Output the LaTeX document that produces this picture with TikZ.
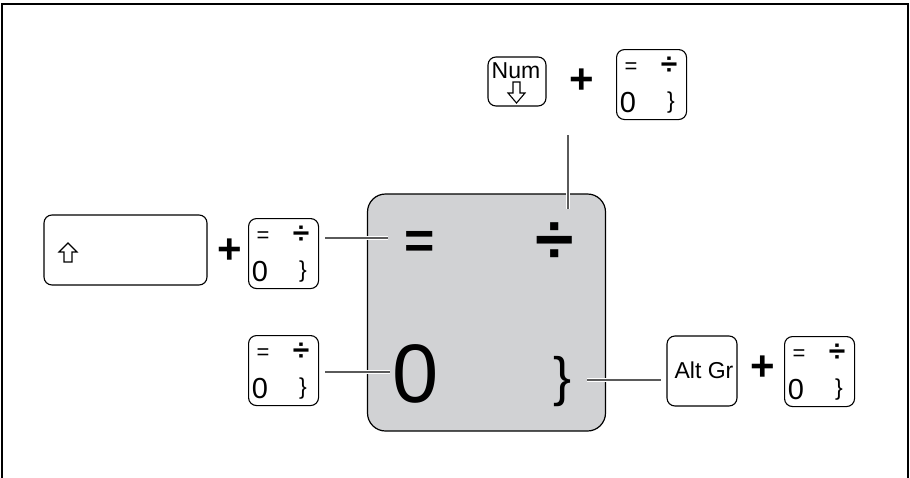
\documentclass[tikz,border=0pt]{standalone}
\usepackage{fontspec}
\setmainfont{Liberation Sans}
\definecolor{keygray}{HTML}{D1D2D4}
\definecolor{leadgray}{HTML}{5A5A5A}
\newcommand{\fs}[1]{\fontsize{#1}{#1}\selectfont}
\tikzset{
  keybox/.style={draw=black, line width=1.1pt, rounded corners=8pt, fill=white, inner sep=0pt},
  sym/.style={inner sep=0pt, outer sep=0pt, text=black},
  plussign/.style={sym, font=\fs{42}\bfseries},
  leader/.style={draw=leadgray, line width=1.4pt, preaction={draw=white, line width=4.5pt}},
  arrowout/.style={draw=black, line width=1.1pt, line join=miter, fill=white},
  smallkey/.pic={
    \node[keybox, minimum width=70pt, minimum height=70pt, anchor=north west] (-box) at (0,0) {};
    \node[sym, font=\fs{22}] (-eq) at (15,19) {=};
    \node[sym, font=\fs{30}\bfseries] (-div) at (53,17) {÷};
    \node[sym, font=\fs{29}] (-zero) at (12,54) {0};
    \node[sym, font=\fs{23}] (-brace) at (55,54) {\}};
  }
}
\begin{document}
\begin{tikzpicture}[x=1pt, y=-1pt]
\useasboundingbox (0,0) rectangle (910,477);
% frame
\draw[line width=1.5pt] (2,478) -- (2,4) -- (908,4) -- (908,478);

% big key
\node[draw=black, line width=1.2pt, fill=keygray, rounded corners=18pt, minimum width=238pt, minimum height=237pt, inner sep=0pt] (big) at (486.5,312.5) {};
\node[sym, font=\fs{52}\bfseries] (bigeq) at (420,245) {=};
\node[sym, font=\fs{70}\bfseries] (bigdiv) at (555,243) {÷};
\node[sym, font=\fs{83}] (bigzero) at (416,374) {0};
\node[sym, font=\fs{54}] (bigbrace) at (563,382) {\}};

% top: Num + key
\node[keybox, minimum width=58pt, minimum height=49pt] (num) at (517,81.5) {};
\node[sym, font=\fs{23}] (numtxt) at (516,70.5) {Num};
\draw[arrowout] (513,82) -- (520,82) -- (520,93) -- (525,93) -- (516.5,103) -- (508,93) -- (513,93) -- cycle;
\node[plussign] (plus1) at (582,81) {+};
\pic (ktop) at (616,49) {smallkey};

% left: shift + key
\node[keybox, minimum width=163pt, minimum height=70pt] (shift) at (125.5,250) {};
\draw[arrowout] (68,243) -- (77,252) -- (72,252) -- (72,262) -- (64,262) -- (64,252) -- (59,252) -- cycle;
\node[plussign] (plus2) at (230,251) {+};
\pic (kleft) at (248,218) {smallkey};

% left lower key
\pic (klow) at (248,335) {smallkey};

% right: Alt Gr + key
\node[keybox, minimum width=70pt, minimum height=70pt] (altgr) at (702,371) {};
\node[sym, font=\fs{23}] (alttxt) at (704,370) {Alt Gr};
\node[plussign] (plus3) at (763,368) {+};
\pic (kright) at (784,336) {smallkey};

% leader coordinates
\coordinate (l1a) at (325,238);
\coordinate (l1b) at (388,238);
\coordinate (l2a) at (568,135);
\coordinate (l2b) at (568,209);
\coordinate (l3a) at (325,372);
\coordinate (l3b) at (390,372);
\coordinate (l4a) at (587,380);
\coordinate (l4b) at (661,380);
\draw[leader] (l1a) -- (l1b);
\draw[leader] (l2a) -- (l2b);
\draw[leader] (l3a) -- (l3b);
\draw[leader] (l4a) -- (l4b);
\end{tikzpicture}
\end{document}
